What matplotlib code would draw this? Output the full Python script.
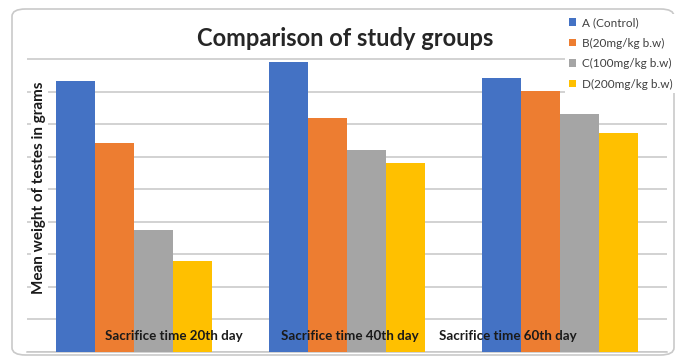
import matplotlib
matplotlib.use("Agg")
import matplotlib.pyplot as plt
from matplotlib.patches import FancyBboxPatch
import numpy as np

groups = ["Sacrifice time 20th day", "Sacrifice time 40th day", "Sacrifice time 60th day"]
series_names = ["A (Control)", "B(20mg/kg b.w)", "C(100mg/kg b.w)", "D(200mg/kg b.w)"]
values_A = [8.33, 8.91, 8.42]
values_B = [6.42, 7.19, 8.02]
values_C = [3.75, 6.21, 7.31]
values_D = [2.80, 5.82, 6.72]
colors = ["#4472C4", "#ED7D31", "#A5A5A5", "#FFC000"]
label_offsets = [0.19, 0.015, -0.245]

plt.rcParams['font.family'] = ['Lato', 'DejaVu Sans']

fig = plt.figure(figsize=(6.8, 3.64), dpi=100)
# outer chart frame
frame = FancyBboxPatch((12/680, 9/364), 662/680, 346/364,
                       boxstyle="round,pad=0,rounding_size=0.02",
                       transform=fig.transFigure, facecolor="white",
                       edgecolor="#c9c9c9", linewidth=1.2, zorder=-5)
fig.patches.append(frame)

ax = fig.add_axes([27/680, 12/364, 640/680, 325.5/364])
ax.set_facecolor("none")
x = np.arange(len(groups))
w = 0.1825
all_vals = [values_A, values_B, values_C, values_D]
for i, (vals, c, name) in enumerate(zip(all_vals, colors, series_names)):
    ax.bar(x + (i - 1.5) * w, vals, width=w, color=c, label=name, zorder=3)

ax.set_xlim(-0.5, 2.5)
ax.set_ylim(0, 10)
ax.set_yticks(np.arange(0, 11, 1))
ax.set_xticks([])
ax.tick_params(axis='y', length=0, labelleft=False)
ax.grid(axis='y', color="#c6c6c6", linewidth=1.1, zorder=0)
for s in ["top", "right", "left"]:
    ax.spines[s].set_visible(False)
ax.spines["bottom"].set_color("#c6c6c6")
ax.spines["bottom"].set_linewidth(1.1)

for xi, g, off in zip(x, groups, label_offsets):
    ax.text(xi + off, 0.5, g, ha="center", va="center", fontsize=9.6,
            fontweight="bold", color="#1a1a1a", zorder=5)

ax.text(0.019, 0.505, "Mean weight of testes in grams", transform=ax.transAxes,
        rotation=90, ha="center", va="center", fontsize=11, fontweight="bold",
        color="#1a1a1a", zorder=5,
        bbox=dict(facecolor="white", edgecolor="none", pad=1))

fig.text(345/680, 1 - 38/364, "Comparison of study groups", ha="center",
         va="center", fontsize=17, fontweight="bold", color="#262626")

leg = fig.legend(loc="upper left", bbox_to_anchor=(565/680, 1 - 13.5/364),
                 fontsize=8.5, frameon=True, handlelength=0.6, handleheight=0.6,
                 handletextpad=0.5, labelspacing=0.8, borderaxespad=0,
                 borderpad=0.3, fancybox=False)
leg.get_frame().set_edgecolor("none")
leg.get_frame().set_facecolor("white")
leg.get_frame().set_alpha(1)
leg.set_zorder(10)
for t in leg.get_texts():
    t.set_color("#404040")

fig.savefig("out.png", dpi=100)
